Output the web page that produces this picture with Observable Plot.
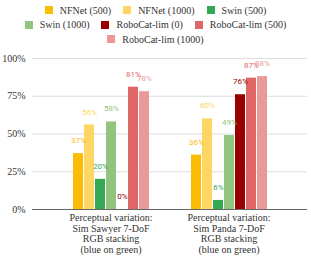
<!DOCTYPE html>
<html><head><meta charset="utf-8">
<script src="https://cdn.jsdelivr.net/npm/d3@7"></script>
<script src="https://cdn.jsdelivr.net/npm/@observablehq/plot@0.6"></script>
<style>
body{margin:0;background:#fff;width:311px;height:259px;overflow:hidden;font-family:"Liberation Serif",serif;}
#legend{width:290px;margin:0 auto;height:46px;display:flex;flex-wrap:wrap;justify-content:center;align-content:flex-start;padding-top:3px;box-sizing:border-box;}
.item{display:flex;align-items:center;height:14.5px;margin:0 6px;font-size:10px;color:#333;white-space:nowrap;}
.sw{width:8px;height:8px;margin-right:7px;}
#chart{position:relative;width:311px;height:213px;}
#chart svg{position:absolute;left:0;top:0;}
</style></head>
<body><div id="legend"></div><div id="chart"></div>
<script>
const groups = ["Perceptual variation:\nSim Sawyer 7-DoF\nRGB stacking\n(blue on green)", "Perceptual variation:\nSim Panda 7-DoF\nRGB stacking\n(blue on green)"];
const series = ["NFNet (500)", "NFNet (1000)", "Swin (500)", "Swin (1000)", "RoboCat-lim (0)", "RoboCat-lim (500)", "RoboCat-lim (1000)"];
const colors = ["#fbbc04", "#fdd663", "#34a853", "#93c47d", "#990000", "#e06666", "#ea9999"];
const sawyer = [37, 56, 20, 58, 0, 81, 78];
const panda = [36, 60, 6, 49, 76, 87, 88];
const yTicks = [0, 25, 50, 75, 100];

const data = [];
series.forEach((s, i) => {
  data.push({group: groups[0], series: s, value: sawyer[i]});
  data.push({group: groups[1], series: s, value: panda[i]});
});

const leg = document.getElementById("legend");
series.forEach((s, i) => {
  const it = document.createElement("div"); it.className = "item";
  const sw = document.createElement("div"); sw.className = "sw"; sw.style.background = colors[i];
  it.appendChild(sw); it.appendChild(document.createTextNode(s));
  leg.appendChild(it);
});

const common = {
  width: 311, height: 213,
  marginLeft: 32, marginRight: 4, marginTop: 12, marginBottom: 50,
  y: {domain: [0, 100], axis: null}
};

// background: grid, y axis (spans the whole frame)
const back = Plot.plot({
  ...common,
  style: {fontFamily: "Liberation Serif, serif", fontSize: "10px", color: "#333", background: "#fff"},
  marks: [
    Plot.ruleY(yTicks.slice(1), {stroke: "#dddddd", strokeWidth: 1}),
    Plot.axisY(yTicks, {tickSize: 0, tickPadding: 7, tickFormat: d => d + "%", label: null, fontSize: 10})
  ]
});

// foreground: faceted bars
const front = Plot.plot({
  ...common,
  style: {fontFamily: "Liberation Serif, serif", fontSize: "10px", color: "#333", background: "transparent"},
  fx: {domain: groups, paddingInner: 0.33, paddingOuter: 0.33, label: null},
  x: {domain: series, paddingInner: 0.1, paddingOuter: 0.1, axis: null},
  color: {domain: series, range: colors},
  marks: [
    Plot.barY(data, {fx: "group", x: "series", y: "value", fill: "series"}),
    Plot.text(data, {fx: "group", x: "series", y: "value", text: d => d.value + "%", fill: "series", dy: -13, fontSize: 8, fontFamily: "Roboto, sans-serif"}),
    Plot.axisFx({anchor: "bottom", tickSize: 0, tickPadding: 4, label: null, lineHeight: 1.07, fontSize: 10})
  ]
});

const base = Plot.plot({
  ...common,
  style: {background: "transparent"},
  marks: [Plot.ruleY([0], {stroke: "#666", strokeWidth: 1})]
});

const c = document.getElementById("chart");
c.appendChild(back); c.appendChild(front); c.appendChild(base);
</script></body></html>
